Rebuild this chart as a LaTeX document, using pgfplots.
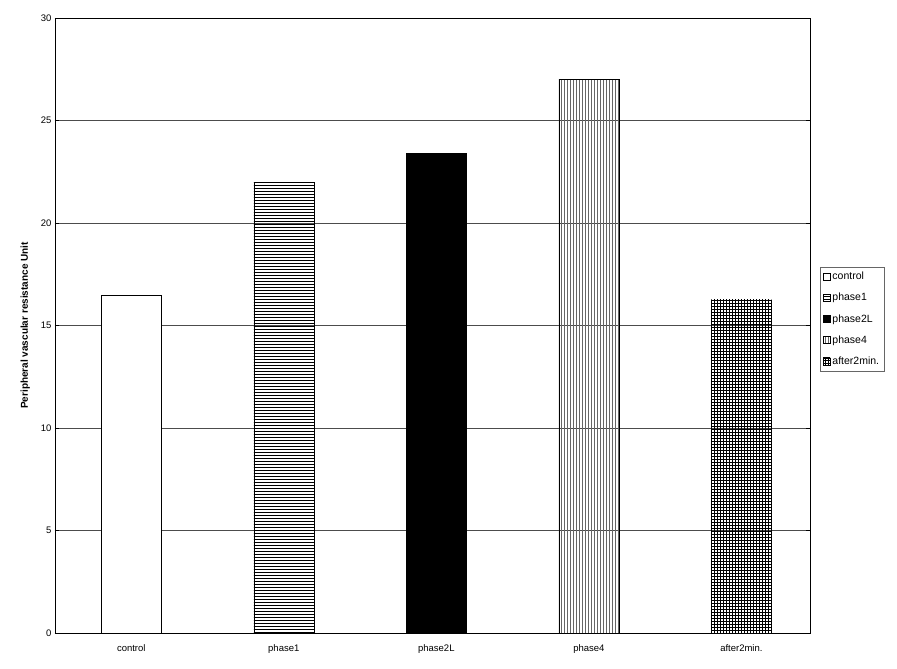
\documentclass[border=0pt]{standalone}
\usepackage{pgfplots}
\pgfplotsset{compat=1.18}
\usetikzlibrary{patterns}
\usepackage{fontspec}
\setmainfont{Liberation Sans}
\begin{document}
\begin{tikzpicture}
\begin{axis}[
  name=ax,
  scale only axis, width=755pt, height=615pt,
  ybar, bar width=60pt, bar shift=0pt,
  xmin=-0.5, xmax=4.45, ymin=0, ymax=30,
  ytick={0,5,...,30}, ymajorgrids, major grid style={black!70},
  xtick={0,1,2,3,4}, xticklabels={control,phase1,phase2L,phase4,after2min.},
  x tick label style={font=\fontsize{9.5}{10}\selectfont, yshift=-4pt},
  y tick label style={font=\fontsize{9.5}{10}\selectfont},
  /pgf/number format/assume math mode=true,
  tick style={black}, xtick style={draw=none},
  ylabel={\textbf{Peripheral vascular resistance Unit}},
  ylabel style={font=\fontsize{10}{12}\selectfont, yshift=4pt},
  legend style={at={(1.013,0.595)}, anchor=north west, font=\fontsize{10.5}{11}\selectfont, draw=black!60, row sep=8pt, inner sep=3pt},
  legend cell align=left,
  legend image code/.code={\draw[#1] (0cm,-3.5pt) rectangle (7pt,3.5pt);},
]
\addplot[draw=black, fill=white] coordinates {(0,16.5)};
\addplot[draw=black, pattern=horizontal lines] coordinates {(1,22.0)};
\addplot[draw=black, fill=black] coordinates {(2,23.4)};
\addplot[draw=black, pattern=vertical lines, pattern color=black!60] coordinates {(3,27.0)};
\addplot[draw=black, pattern=grid] coordinates {(4,16.25)};
\legend{control,phase1,phase2L,phase4,after2min.}
\end{axis}
\path ([shift={(-55pt,-36pt)}]ax.south west) ([shift={(87pt,18pt)}]ax.north east);
\end{tikzpicture}
\end{document}
